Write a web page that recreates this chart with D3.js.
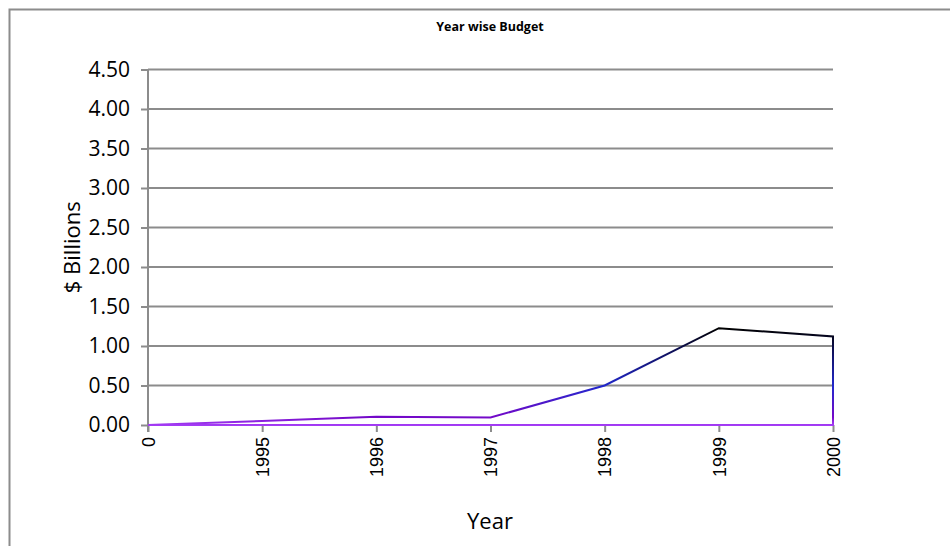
<!DOCTYPE html>
<html>
<head>
<meta charset="utf-8">
<script src="https://cdn.jsdelivr.net/npm/d3@7"></script>
<style>
  body { margin: 0; background: #fff; }
  svg { display: block; }
</style>
</head>
<body>
<svg id="chart" width="950" height="546"></svg>
<script>
// Data
const categories = ["0", "1995", "1996", "1997", "1998", "1999", "2000"];
const budget = [0, 0.05, 0.105, 0.095, 0.50, 1.225, 1.12];
const yTicks = [0, 0.5, 1, 1.5, 2, 2.5, 3, 3.5, 4, 4.5];

const width = 950, height = 546;
const margin = { top: 69.5, right: 117, bottom: 121, left: 148 };

const $svg = d3.select("#chart");

// Outer frame (cut off at right / bottom)
$svg.append("rect")
    .attr("x", 9.5).attr("y", 9.5)
    .attr("width", 960).attr("height", 560)
    .attr("fill", "none")
    .attr("stroke", "#8c8c8c")
    .attr("stroke-width", 2);

// Scales
const x = d3.scalePoint()
    .domain(categories)
    .range([margin.left, width - margin.right]);

const y = d3.scaleLinear()
    .domain([0, 4.5])
    .range([height - margin.bottom, margin.top]);

// Grid
$svg.append("g")
  .selectAll("line")
  .data(yTicks.slice(1))
  .join("line")
    .attr("x1", margin.left)
    .attr("x2", width - margin.right)
    .attr("y1", d => y(d))
    .attr("y2", d => y(d))
    .attr("stroke", "#8c8c8c")
    .attr("stroke-width", 2);

// Y axis
const yAxis = d3.axisLeft(y)
    .tickValues(yTicks)
    .tickFormat(d3.format(".2f"))
    .tickSize(7)
    .tickPadding(11);

const $yAxis = $svg.append("g")
    .attr("transform", `translate(${margin.left},0)`)
    .call(yAxis);
$yAxis.select(".domain").remove();
$yAxis.selectAll(".tick line").attr("stroke", "#8c8c8c").attr("stroke-width", 2);
$yAxis.selectAll(".tick text")
    .attr("font-family", "'Open Sans', sans-serif")
    .attr("font-size", 21)
    .attr("fill", "#000");
$svg.append("line")
    .attr("x1", margin.left).attr("x2", margin.left)
    .attr("y1", y(4.5)).attr("y2", y(0) + 7)
    .attr("stroke", "#8c8c8c")
    .attr("stroke-width", 2);

// X axis
const xAxis = d3.axisBottom(x).tickSize(7).tickPadding(6);
const $xAxis = $svg.append("g")
    .attr("transform", `translate(0,${y(0)})`)
    .call(xAxis);
$xAxis.select(".domain")
    .attr("d", `M${margin.left},0H${width - margin.right}`)
    .attr("stroke", "#8c8c8c")
    .attr("stroke-width", 2);
$xAxis.selectAll(".tick line").attr("stroke", "#8c8c8c").attr("stroke-width", 2);
$xAxis.selectAll(".tick text")
    .attr("font-family", "'Liberation Sans', Arial, sans-serif")
    .attr("font-size", 18)
    .attr("fill", "#000")
    .attr("text-anchor", "end")
    .attr("dy", "0.35em")
    .attr("transform", "rotate(-90)")
    .attr("x", -12)
    .attr("y", 0);

// Gradient for the outline
const defs = $svg.append("defs");
const grad = defs.append("linearGradient")
    .attr("id", "lineGrad")
    .attr("gradientUnits", "userSpaceOnUse")
    .attr("x1", 0).attr("x2", 0)
    .attr("y1", y(0)).attr("y2", y(d3.max(budget)));
grad.selectAll("stop")
  .data([
    [0, "#a43cf5"],
    [0.08, "#7408c8"],
    [0.4, "#2228cc"],
    [0.7, "#121470"],
    [1, "#000000"],
  ])
  .join("stop")
    .attr("offset", d => d[0])
    .attr("stop-color", d => d[1]);

// Area outline
const points = categories.map((c, i) => [x(c), y(budget[i])]);
points.push([x(categories[categories.length - 1]), y(0)]);
points.push([x(categories[0]), y(0)]);

$svg.append("path")
    .attr("d", d3.line()(points) + "Z")
    .attr("fill", "none")
    .attr("stroke", "url(#lineGrad)")
    .attr("stroke-width", 2)
    .attr("stroke-linejoin", "miter");

// Title
$svg.append("text")
    .attr("x", 490).attr("y", 31)
    .attr("text-anchor", "middle")
    .attr("font-family", "'Open Sans', sans-serif")
    .attr("font-weight", "bold")
    .attr("font-size", 12.5)
    .text("Year wise Budget");

// Axis titles
$svg.append("text")
    .attr("transform", `translate(80,${(y(0) + y(4.5)) / 2}) rotate(-90)`)
    .attr("text-anchor", "middle")
    .attr("font-family", "'Open Sans', sans-serif")
    .attr("font-size", 22)
    .text("$ Billions");

$svg.append("text")
    .attr("x", 490).attr("y", 529)
    .attr("text-anchor", "middle")
    .attr("font-family", "'Open Sans', sans-serif")
    .attr("font-size", 22)
    .text("Year");
</script>
</body>
</html>
